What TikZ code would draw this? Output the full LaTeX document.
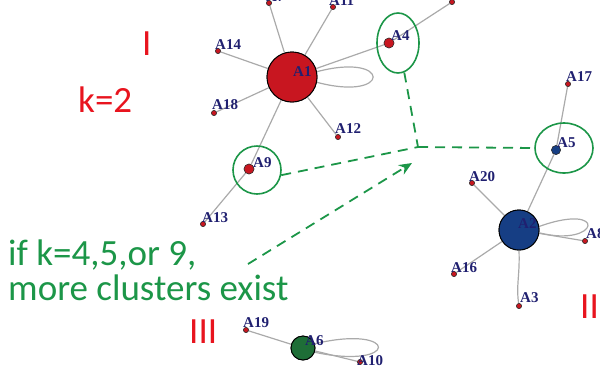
\documentclass[tikz,border=0pt]{standalone}
\usepackage{fontspec}
\setmainfont{Carlito}
\newfontfamily\lblfont{Liberation Serif}
\usetikzlibrary{shapes.geometric,arrows.meta}
\definecolor{grn}{RGB}{28,150,72}
\definecolor{rd}{RGB}{232,20,30}
\definecolor{hubred}{RGB}{200,22,32}
\definecolor{hubblue}{RGB}{22,62,132}
\definecolor{hubgreen}{RGB}{30,110,55}
\definecolor{lbl}{RGB}{32,32,112}
\definecolor{edgegray}{RGB}{170,170,170}
\tikzset{
  edge/.style={draw=edgegray,line width=1.2pt},
  dot/.style={circle,fill=hubred,draw=black!80,line width=0.5pt,inner sep=0pt,minimum size=5pt},
  hub/.style={circle,draw=black,line width=0.9pt,inner sep=0pt},
  nlabel/.style={anchor=base west,inner sep=0pt,text=lbl,font=\lblfont\bfseries\fontsize{15}{15}\selectfont},
  bigtext/.style={anchor=base west,inner sep=0pt,font=\fontsize{37}{37}\selectfont},
  ring/.style={draw=grn,line width=1.6pt,inner sep=0pt},
  gdash/.style={draw=grn,line width=1.8pt,dash pattern=on 10pt off 7pt}
}
\begin{document}
\begin{tikzpicture}[x=1pt,y=-1pt]
\useasboundingbox (0,0) rectangle (600,368);
\clip (0,0) rectangle (600,368);
% hubs
\node[hub,fill=hubred,minimum size=50pt] (A1) at (292,77) {};
\node[hub,fill=hubblue,minimum size=40pt] (A2) at (519,230) {};
\node[hub,fill=hubgreen,minimum size=24pt] (A6) at (303,348) {};
% small nodes
\node[dot] (A7) at (269,3) {};
\node[dot] (A11) at (333,7) {};
\node[dot] (A14) at (218,51) {};
\node[dot] (A18) at (214,113) {};
\node[dot] (A12) at (338,137) {};
\node[dot,minimum size=10pt] (A4) at (389,43) {};
\node[dot] (A15) at (452,2) {};
\node[dot,minimum size=10pt] (A9) at (249,169) {};
\node[dot] (A13) at (203,224) {};
\node[dot,fill=hubblue,minimum size=9pt] (A5) at (556,150) {};
\node[dot] (A17) at (568,84) {};
\node[dot] (A20) at (472,183) {};
\node[dot] (A8) at (585,241) {};
\node[dot] (A16) at (454,274) {};
\node[dot] (A3) at (519,306) {};
\node[dot] (A19) at (246,330) {};
\node[dot] (A10) at (360,362) {};
% edges
\path[edge] (A1) -- (A7) (A1) -- (A11) (A1) -- (A14) (A1) -- (A18) (A1) -- (A12)
  (A1) -- (A4) (A4) -- (A15) (A1) -- (A9) (A9) -- (A13)
  (A2) -- (A5) (A5) -- (A17) (A2) -- (A20) (A2) -- (A16) (A2) -- (A8)
  (A6) -- (A19) (A6) -- (A10);
\draw[edge] (A2.south) .. controls (520,275) and (516,285) .. (A3);
% loops
\draw[edge] (A1.12) .. controls +(75,-20) and +(75,20) .. (A1.-12);
\draw[edge] (A2.10) .. controls +(70,-25) and +(60,15) .. (A2.-8);
\draw[edge] (A6.20) .. controls +(85,-20) and +(85,18) .. (A6.-20);
% redraw nodes on top
\node[hub,fill=hubred,minimum size=50pt] at (A1) {};
\node[hub,fill=hubblue,minimum size=40pt] at (A2) {};
\node[hub,fill=hubgreen,minimum size=24pt] at (A6) {};
\foreach \n in {A7,A11,A14,A18,A12,A15,A13,A17,A20,A8,A16,A3,A19,A10}{\node[dot] at (\n) {};}
\node[dot,minimum size=10pt] at (A4) {};
\node[dot,minimum size=10pt] at (A9) {};
\node[dot,fill=hubblue,minimum size=9pt] at (A5) {};
% labels
\node[nlabel] (lA1) at (293,76) {A1};
\node[nlabel] (lA2) at (518,228) {A2};
\node[nlabel] (lA6) at (305,345) {A6};
\node[nlabel] (lA7) at (266,1) {A7};
\node[nlabel] (lA11) at (329,5) {A11};
\node[nlabel] (lA14) at (215,49) {A14};
\node[nlabel] (lA18) at (212,109) {A18};
\node[nlabel] (lA12) at (335,133) {A12};
\node[nlabel] (lA4) at (391,40) {A4};
\node[nlabel] (lA9) at (253,167) {A9};
\node[nlabel] (lA13) at (202,222) {A13};
\node[nlabel] (lA5) at (557,147) {A5};
\node[nlabel] (lA17) at (566,81) {A17};
\node[nlabel] (lA20) at (469,181) {A20};
\node[nlabel] (lA8) at (586,238) {A8};
\node[nlabel] (lA16) at (451,272) {A16};
\node[nlabel] (lA3) at (520,302) {A3};
\node[nlabel] (lA19) at (243,327) {A19};
\node[nlabel] (lA10) at (357,365) {A10};
% cluster rings
\node[ring,ellipse,minimum width=42pt,minimum height=60pt] (e4) at (398,43) {};
\node[ring,circle,minimum size=48pt] (e9) at (257,170) {};
\node[ring,ellipse,minimum width=58pt,minimum height=50pt] (e5) at (564,148) {};
% dashed connectors
\coordinate (J) at (418,147);
\coordinate (arrS) at (248,264);
\coordinate (arrE) at (412,163);
\draw[gdash] (e4.-78) -- (J);
\draw[gdash] (J) -- (e5.west);
\draw[gdash] (e9.-12) -- (J);
\draw[gdash,-{Stealth[length=13pt,width=11pt]}] (arrS) -- (arrE);
% texts
\node[bigtext,text=rd] (tI) at (142,55) {I};
\node[bigtext,text=rd] (tk) at (78,112) {k=2};
\node[bigtext,text=rd] (tII) at (580,318) {II};
\node[bigtext,text=rd] (tIII) at (189,343) {III};
\node[bigtext,text=grn] (t1) at (8,265) {if k=4,5,or 9,};
\node[bigtext,text=grn] (t2) at (8,300) {more clusters exist};
\end{tikzpicture}
\end{document}
